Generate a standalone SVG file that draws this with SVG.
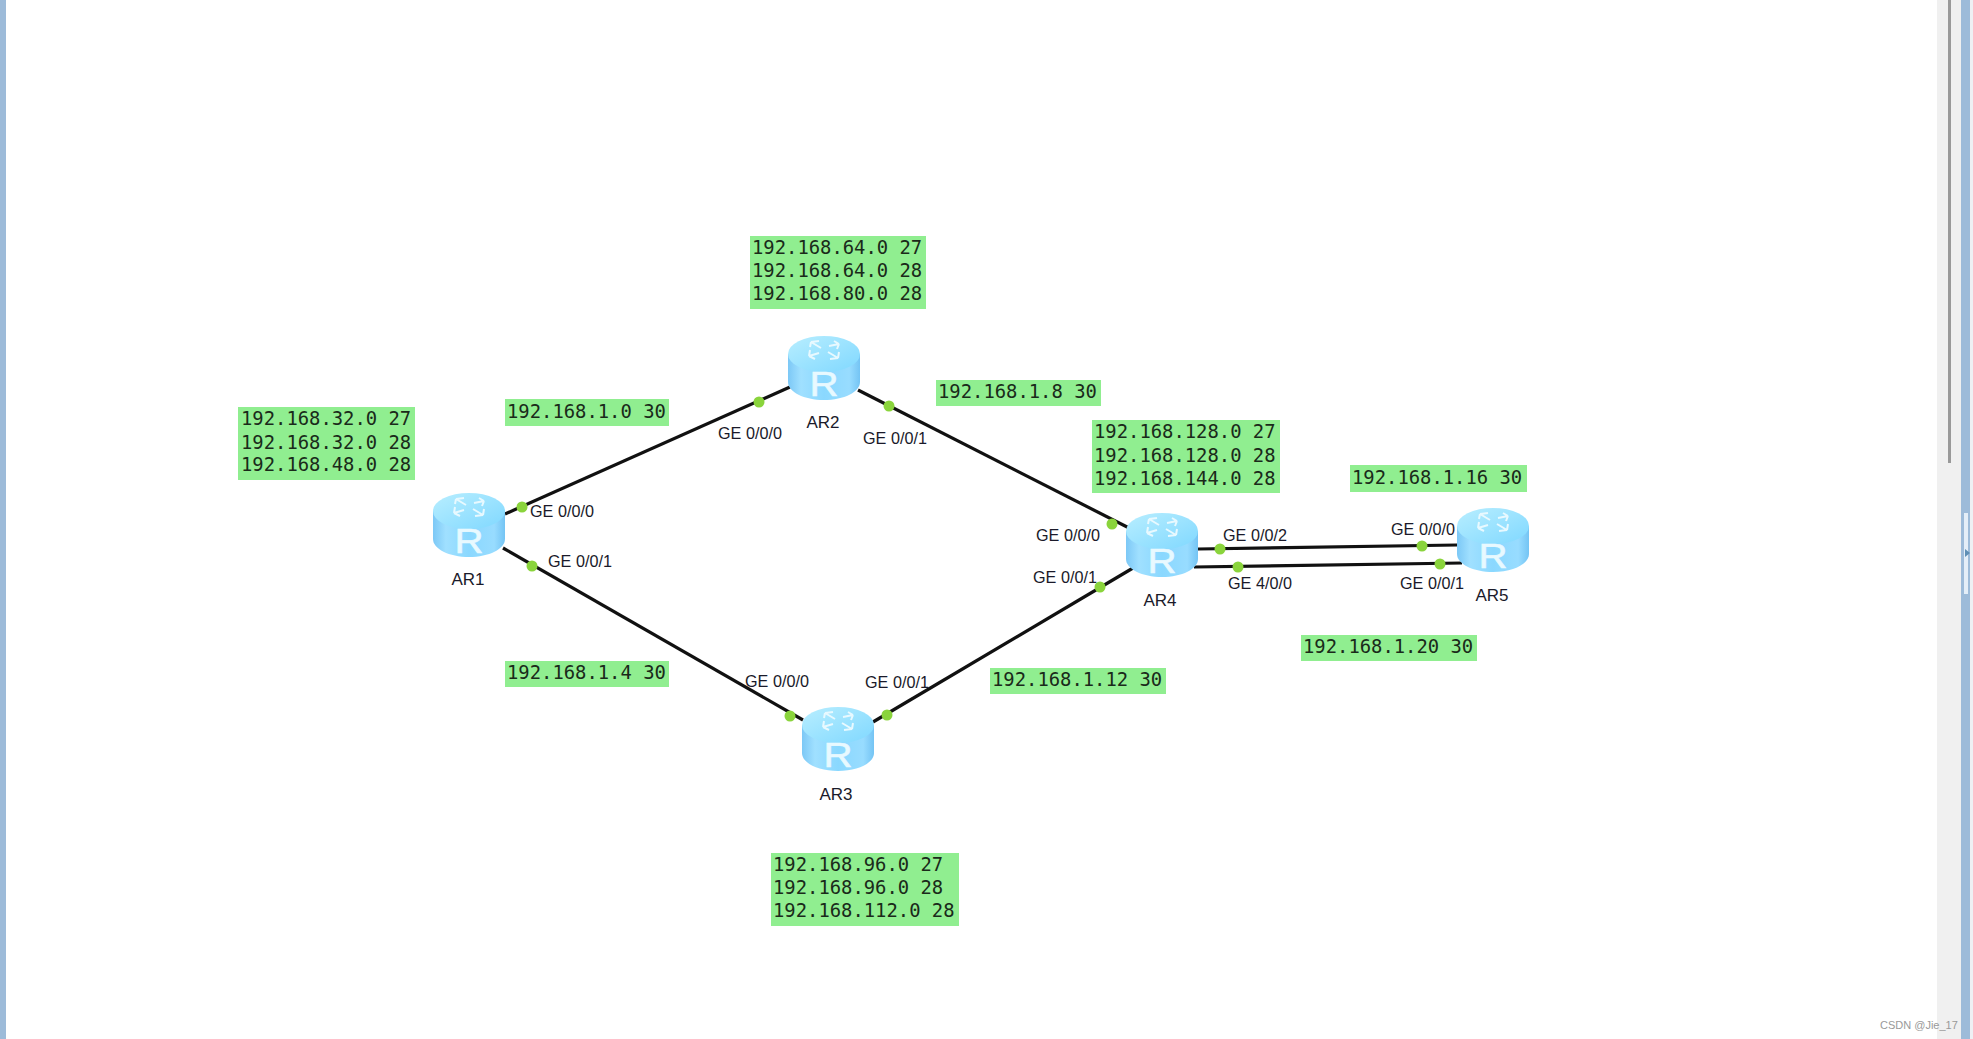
<svg xmlns="http://www.w3.org/2000/svg" width="1973" height="1039" viewBox="0 0 1973 1039">
<style>
.box{fill:#90ee90}
.ip{font-family:"DejaVu Sans Mono","Liberation Mono",monospace;font-size:18.85px;fill:#1a2a1a}
.lb{font-family:"Liberation Sans",Arial,sans-serif;font-size:16.2px;fill:#1a1a2a}
.nm{font-family:"Liberation Sans",Arial,sans-serif;font-size:17px;fill:#1a1a2a}
.ln{stroke:#111;stroke-width:3.2;fill:none}
.dot{fill:#8ad43c}
</style>
<defs>
<linearGradient id="side" x1="0" x2="1" y1="0" y2="0">
<stop offset="0" stop-color="#7cc8f6"/><stop offset=".18" stop-color="#a0e0ff"/><stop offset=".5" stop-color="#8ad8ff"/><stop offset=".85" stop-color="#98dcff"/><stop offset="1" stop-color="#74c4f4"/>
</linearGradient>
<linearGradient id="top" x1="0" x2="1" y1="0" y2="1">
<stop offset="0" stop-color="#b8eeff"/><stop offset="1" stop-color="#80d8ff"/>
</linearGradient>
<g id="router">
<path d="M0 18V46C0 56 16 64 36 64S72 56 72 46V18Z" fill="url(#side)"/>
<ellipse cx="36" cy="18" rx="36" ry="18" fill="url(#top)"/>
<g fill="none" stroke="#e8f9ff" stroke-width="2">
<path d="M33 12L23 6M23 6l8-1M23 6l-1 5"/>
<path d="M41 10L51 8M51 8l-5-3M51 8l-2 5"/>
<path d="M31 17L21 20M21 20l6 3M21 20l1-6"/>
<path d="M40 16L50 22M50 22l-8 1M50 22l1-6"/>
</g>
<text transform="translate(36 60) scale(1.15 1)" text-anchor="middle" font-family="Liberation Sans,Arial,sans-serif" font-size="35" stroke="#e8f9ff" stroke-width=".6" fill="#e8f9ff">R</text>
</g>
</defs>
<rect width="1973" height="1039" fill="#fff"/>
<g id="window-frame">
<rect x="0" y="0" width="6" height="1039" fill="#9dbbd9"/>
<rect x="1937" y="0" width="24" height="1039" fill="#f0f0f0"/>
<rect x="1948" y="0" width="3" height="463" fill="#999"/>
<rect x="1961" y="0" width="9" height="1039" fill="#9dbbd9"/>
<rect x="1970" y="0" width="3" height="1039" fill="#eef0f4"/>
<rect x="1964" y="513" width="4" height="81" fill="#e4eef8"/>
<path d="M1965 549l5 4-5 4z" fill="#5f8fb5"/>
</g>
<g id="connectors">
<path class="ln" d="M505 514L790 387"/>
<path class="ln" d="M858 390L1133 530"/>
<path class="ln" d="M503 548L803 720"/>
<path class="ln" d="M873 722L1133 568"/>
<path class="ln" d="M1198 549L1457 545"/>
<path class="ln" d="M1194 567L1462 563"/>
<g class="dot">
<circle cx="522" cy="507" r="5.5"/><circle cx="759" cy="402" r="5.5"/>
<circle cx="889" cy="406" r="5.5"/><circle cx="1112" cy="524" r="5.5"/>
<circle cx="532" cy="566" r="5.5"/><circle cx="790" cy="716" r="5.5"/>
<circle cx="887" cy="715" r="5.5"/><circle cx="1100" cy="587" r="5.5"/>
<circle cx="1220" cy="549" r="5.5"/><circle cx="1422" cy="546" r="5.5"/>
<circle cx="1238" cy="567" r="5.5"/><circle cx="1440" cy="564" r="5.5"/>
</g>
<g class="lb">
<text x="530" y="517">GE 0/0/0</text>
<text x="548" y="567">GE 0/0/1</text>
<text x="718" y="439">GE 0/0/0</text>
<text x="863" y="444">GE 0/0/1</text>
<text x="745" y="687">GE 0/0/0</text>
<text x="865" y="688">GE 0/0/1</text>
<text x="1036" y="541">GE 0/0/0</text>
<text x="1033" y="583">GE 0/0/1</text>
<text x="1223" y="541">GE 0/0/2</text>
<text x="1228" y="589">GE 4/0/0</text>
<text x="1391" y="535">GE 0/0/0</text>
<text x="1400" y="589">GE 0/0/1</text>
</g>
</g>
<g id="AR1"><use href="#router" x="433" y="493"/><text class="nm" x="468" y="585" text-anchor="middle">AR1</text></g>
<g id="AR2"><use href="#router" x="788" y="336"/><text class="nm" x="823" y="428" text-anchor="middle">AR2</text></g>
<g id="AR3"><use href="#router" x="802" y="707"/><text class="nm" x="836" y="800" text-anchor="middle">AR3</text></g>
<g id="AR4"><use href="#router" x="1126" y="513"/><text class="nm" x="1160" y="606" text-anchor="middle">AR4</text></g>
<g id="AR5"><use href="#router" x="1457" y="508"/><text class="nm" x="1492" y="601" text-anchor="middle">AR5</text></g>
<g id="net-ar1"><rect class="box" x="238" y="407" width="177" height="73"/>
<text class="ip" x="241" y="425">192.168.32.0 27</text><text class="ip" x="241" y="449">192.168.32.0 28</text><text class="ip" x="241" y="471">192.168.48.0 28</text></g>
<g id="net-ar2"><rect class="box" x="750" y="236" width="176" height="73"/>
<text class="ip" x="752" y="254">192.168.64.0 27</text><text class="ip" x="752" y="277">192.168.64.0 28</text><text class="ip" x="752" y="300">192.168.80.0 28</text></g>
<g id="net-ar3"><rect class="box" x="771" y="853" width="188" height="73"/>
<text class="ip" x="773" y="871">192.168.96.0 27</text><text class="ip" x="773" y="894">192.168.96.0 28</text><text class="ip" x="773" y="917">192.168.112.0 28</text></g>
<g id="net-ar4"><rect class="box" x="1092" y="420" width="188" height="73"/>
<text class="ip" x="1094" y="438">192.168.128.0 27</text><text class="ip" x="1094" y="462">192.168.128.0 28</text><text class="ip" x="1094" y="485">192.168.144.0 28</text></g>
<g id="net-12"><rect class="box" x="505" y="399" width="164" height="27"/><text class="ip" x="507" y="418">192.168.1.0 30</text></g>
<g id="net-24"><rect class="box" x="936" y="380" width="165" height="26"/><text class="ip" x="938" y="398">192.168.1.8 30</text></g>
<g id="net-13"><rect class="box" x="505" y="661" width="164" height="26"/><text class="ip" x="507" y="679">192.168.1.4 30</text></g>
<g id="net-34"><rect class="box" x="990" y="668" width="176" height="26"/><text class="ip" x="992" y="686">192.168.1.12 30</text></g>
<g id="net-45a"><rect class="box" x="1350" y="465" width="177" height="27"/><text class="ip" x="1352" y="484">192.168.1.16 30</text></g>
<g id="net-45b"><rect class="box" x="1301" y="635" width="176" height="26"/><text class="ip" x="1303" y="653">192.168.1.20 30</text></g>
<text x="1880" y="1029" font-family="Liberation Sans,Arial,sans-serif" font-size="11" fill="#999">CSDN @Jie_17</text>
</svg>
